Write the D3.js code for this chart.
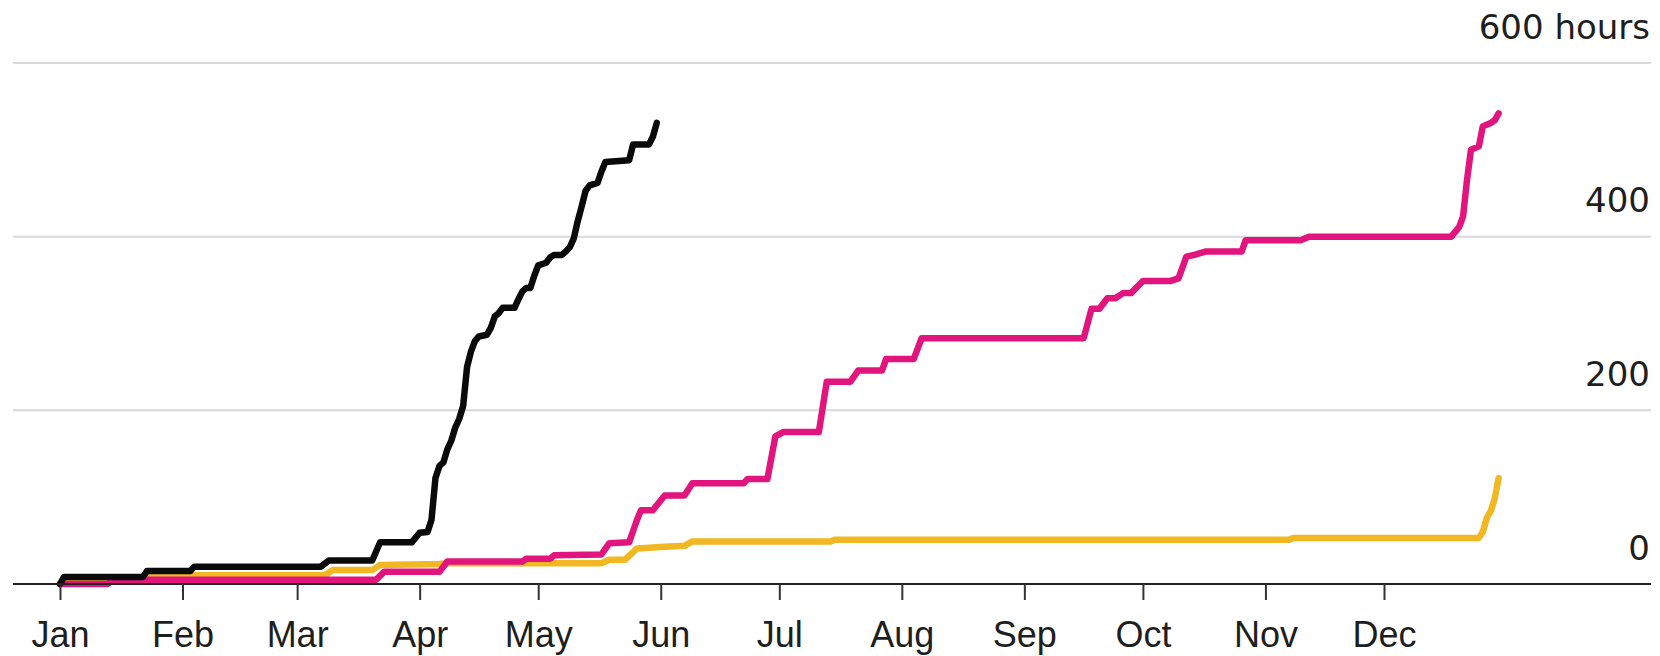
<!DOCTYPE html>
<html>
<head>
<meta charset="utf-8">
<script src="https://cdn.jsdelivr.net/npm/d3@7"></script>
<style>
  html, body { margin: 0; padding: 0; background: #fff; }
  svg { display: block; }
</style>
</head>
<body>
<svg id="chart" width="1660" height="656"></svg>
<script>
// ---- Data ----
const monthLabels = ["Jan","Feb","Mar","Apr","May","Jun","Jul","Aug","Sep","Oct","Nov","Dec"];
const yTicks = [0, 200, 400, 600];
const yTickLabels = ["0", "200", "400", "600 hours"];

const seriesBlack = [
  ["2020-01-01",0],["2020-01-02",8],["2020-01-22",8],["2020-01-23",15],["2020-02-03",15],
  ["2020-02-04",20],["2020-03-07",20],["2020-03-09",27],["2020-03-20",27],["2020-03-22",48],
  ["2020-03-30",48],["2020-04-01",59],["2020-04-03",60],["2020-04-04",74],["2020-04-05",122],
  ["2020-04-06",136],["2020-04-07",140],["2020-04-08",155],["2020-04-09",165],["2020-04-10",180],
  ["2020-04-11",190],["2020-04-12",205],["2020-04-13",250],["2020-04-14",268],["2020-04-15",280],
  ["2020-04-16",285],["2020-04-18",287],["2020-04-19",295],["2020-04-20",308],["2020-04-21",312],
  ["2020-04-22",318],["2020-04-25",318],["2020-04-26",328],["2020-04-27",337],["2020-04-28",341],
  ["2020-04-29",341],["2020-04-30",355],["2020-05-01",367],["2020-05-03",370],["2020-05-04",376],
  ["2020-05-05",379],["2020-05-07",379],["2020-05-08",383],["2020-05-09",388],["2020-05-10",398],
  ["2020-05-11",418],["2020-05-12",435],["2020-05-13",453],["2020-05-14",459],["2020-05-16",462],
  ["2020-05-17",475],["2020-05-18",486],["2020-05-24",488],["2020-05-25",506],["2020-05-29",506],
  ["2020-05-30",515],["2020-05-31",531]
];

const seriesMagenta = [
  ["2020-01-01",0],["2020-01-13",0],["2020-01-14",3],["2020-01-22",3],["2020-01-23",5],
  ["2020-03-21",5],["2020-03-23",14],["2020-04-06",14],["2020-04-08",26],["2020-04-27",26],
  ["2020-04-28",29],["2020-05-04",29],["2020-05-05",33],["2020-05-17",34],["2020-05-19",47],
  ["2020-05-24",48],["2020-05-26",74],["2020-05-27",85],["2020-05-30",85],["2020-06-02",102],
  ["2020-06-07",102],["2020-06-09",116],["2020-06-22",116],["2020-06-23",121],["2020-06-28",121],
  ["2020-06-30",170],["2020-07-02",175],["2020-07-11",175],["2020-07-13",233],["2020-07-19",233],
  ["2020-07-21",246],["2020-07-27",246],["2020-07-28",259],["2020-08-04",259],["2020-08-06",283],
  ["2020-09-16",283],["2020-09-18",317],["2020-09-20",317],["2020-09-22",329],["2020-09-24",329],
  ["2020-09-26",335],["2020-09-28",335],["2020-10-01",349],["2020-10-08",349],["2020-10-10",352],
  ["2020-10-12",377],["2020-10-14",379],["2020-10-17",383],["2020-10-26",383],["2020-10-27",396],
  ["2020-11-10",396],["2020-11-12",400],["2020-12-18",400],["2020-12-20",411],["2020-12-21",423],
  ["2020-12-22",465],["2020-12-23",500],["2020-12-25",504],["2020-12-26",527],["2020-12-28",531],
  ["2020-12-29",534],["2020-12-30",542]
];

const seriesYellow = [
  ["2020-01-01",0],["2020-01-02",4],["2020-01-22",5],["2020-01-23",8],["2020-02-03",8],
  ["2020-02-04",10],["2020-03-08",10],["2020-03-10",16],["2020-03-20",16],["2020-03-22",22],
  ["2020-04-06",23],["2020-04-08",24],["2020-05-17",24],["2020-05-19",28],["2020-05-23",28],
  ["2020-05-26",41],["2020-06-02",43],["2020-06-07",44],["2020-06-09",49],["2020-07-14",49],
  ["2020-07-15",51],["2020-11-07",51],["2020-11-08",53],["2020-12-25",53],["2020-12-26",60],
  ["2020-12-27",76],["2020-12-28",84],["2020-12-29",98],["2020-12-30",122]
];

const seriesColors = { yellow: "#f1b824", magenta: "#e2147e", black: "#0a0a0a" };

// ---- Chart ----
const parse = d3.timeParse("%Y-%m-%d");
const toPts = arr => arr.map(([d, v]) => ({ date: parse(d), value: v }));

const svg = d3.select("#chart");
const W = 1660, H = 656;
const gridLeft = 13, gridRight = 1651;

const x = d3.scaleTime()
  .domain([parse("2020-01-01"), parse("2020-12-01")])
  .range([60, 1384]);
const y = d3.scaleLinear().domain([0, 600]).range([584, 63]);

svg.append("rect").attr("width", W).attr("height", H).attr("fill", "#fff");

// gridlines
svg.append("g").selectAll("line")
  .data(yTicks.filter(v => v !== 0))
  .join("line")
  .attr("x1", gridLeft).attr("x2", gridRight)
  .attr("y1", d => y(d)).attr("y2", d => y(d))
  .attr("stroke", "#d9d9d9").attr("stroke-width", 2);

// y labels (right side, above the gridlines)
svg.append("g").selectAll("text")
  .data(yTicks)
  .join("text")
  .attr("x", 1650)
  .attr("y", d => y(d) - 24.5)
  .attr("text-anchor", "end")
  .attr("font-family", "'DejaVu Sans', sans-serif")
  .attr("font-size", 34)
  .attr("fill", "#1e1e1e")
  .text((d, i) => yTickLabels[i]);

// lines
const line = d3.line().x(d => x(d.date)).y(d => y(d.value));
const layers = [
  [seriesYellow, seriesColors.yellow],
  [seriesMagenta, seriesColors.magenta],
  [seriesBlack, seriesColors.black]
];
svg.append("g").selectAll("path")
  .data(layers)
  .join("path")
  .attr("d", d => line(toPts(d[0])))
  .attr("fill", "none")
  .attr("stroke", d => d[1])
  .attr("stroke-width", 6.5)
  .attr("stroke-linejoin", "round")
  .attr("stroke-linecap", "round");

// baseline
svg.append("line")
  .attr("x1", gridLeft).attr("x2", gridRight)
  .attr("y1", y(0)).attr("y2", y(0))
  .attr("stroke", "#222").attr("stroke-width", 2.2);

// x axis ticks + month labels
const monthStarts = d3.timeMonth.range(parse("2020-01-01"), parse("2021-01-01"));
const xAxis = d3.axisBottom(x)
  .tickValues(monthStarts)
  .tickSize(16)
  .tickFormat((d, i) => monthLabels[i]);
const gx = svg.append("g").attr("transform", `translate(0,${y(0)})`).call(xAxis);
gx.select(".domain").remove();
gx.selectAll(".tick line").attr("stroke", "#333").attr("stroke-width", 2);
gx.selectAll(".tick text")
  .attr("y", 63).attr("dy", 0)
  .attr("font-family", "'Liberation Sans', Arial, Helvetica, sans-serif")
  .attr("font-size", 36)
  .attr("fill", "#1e1e1e");
</script>
</body>
</html>
